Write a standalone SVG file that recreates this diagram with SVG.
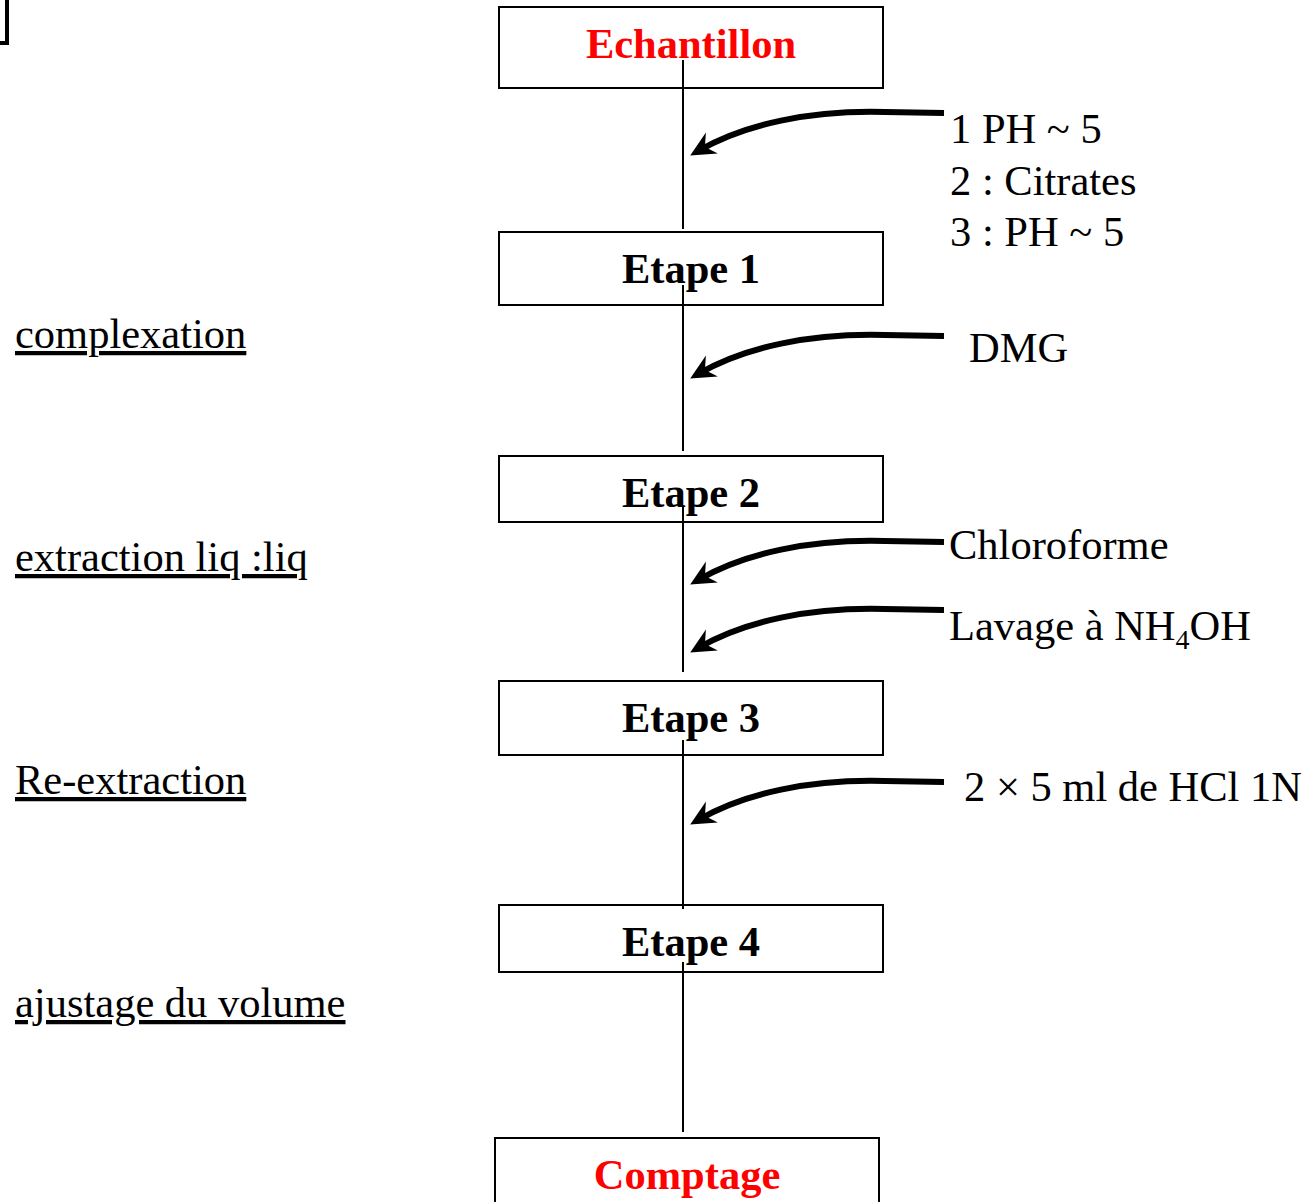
<svg xmlns="http://www.w3.org/2000/svg" width="1309" height="1202" viewBox="0 0 1309 1202">
<defs>
<style>
.box{fill:#fff;stroke:#000;stroke-width:2}
.t{font-family:"Liberation Serif","Times New Roman",serif;font-size:42.5px;fill:#000}
.b{font-weight:bold;text-anchor:middle}
.red{fill:#f00}
.u{text-decoration:underline}
.v{stroke:#000;stroke-width:2;fill:none}
.arr{stroke:#000;stroke-width:6;fill:none;marker-end:url(#ah)}
</style>
<marker id="ah" markerUnits="userSpaceOnUse" markerWidth="40" markerHeight="40" refX="0" refY="0" orient="auto" overflow="visible">
<path d="M9,0 L-16,-12 L-8,0 L-16,12 Z" fill="#000"/>
</marker>
</defs>
<path d="M7,0 V43 H0" fill="none" stroke="#000" stroke-width="4"/>
<g id="n0"><rect class="box" x="499" y="7" width="384" height="81"/><text class="t b red" x="691" y="58">Echantillon</text></g>
<g id="n1"><rect class="box" x="499" y="232" width="384" height="73"/><text class="t b" x="691" y="283">Etape 1</text></g>
<g id="n2"><rect class="box" x="499" y="456" width="384" height="66"/><text class="t b" x="691" y="507">Etape 2</text></g>
<g id="n3"><rect class="box" x="499" y="681" width="384" height="74"/><text class="t b" x="691" y="732">Etape 3</text></g>
<g id="n4"><rect class="box" x="499" y="905" width="384" height="67"/><text class="t b" x="691" y="956">Etape 4</text></g>
<g id="n5"><rect class="box" x="495" y="1138" width="384" height="80"/><text class="t b red" x="687" y="1189">Comptage</text></g>
<g id="connectors">
<path class="v" d="M683,60 V229 M683,285 V451 M683,506 V672 M683,740 V909 M683,962 V1132"/>
<path class="arr" d="M944,113 L885,112 C810,110 745,124 698,151"/>
<path class="arr" d="M944,336 L885,335 C810,333 745,347 698,374"/>
<path class="arr" d="M944,542 L885,541 C810,539 745,553 698,580"/>
<path class="arr" d="M944,610 L885,609 C810,607 745,621 698,648"/>
<path class="arr" d="M944,782 L885,781 C810,779 745,793 698,820"/>
</g>
<g id="labels">
<text class="t" x="950" y="143">1 PH ~ 5</text>
<text class="t" x="950" y="195">2 : Citrates</text>
<text class="t" x="950" y="246">3 : PH ~ 5</text>
<text class="t" x="969" y="362">DMG</text>
<text class="t" x="949" y="559">Chloroforme</text>
<text class="t" x="949" y="640">Lavage à NH<tspan font-size="28" dy="9">4</tspan><tspan dy="-9">OH</tspan></text>
<text class="t" x="964" y="801">2 × 5 ml de HCl 1N</text>
<text class="t u" x="15" y="348">complexation</text>
<text class="t u" x="15" y="571">extraction liq :liq</text>
<text class="t u" x="15" y="794">Re-extraction</text>
<text class="t u" x="15" y="1017">ajustage du volume</text>
</g>
</svg>
